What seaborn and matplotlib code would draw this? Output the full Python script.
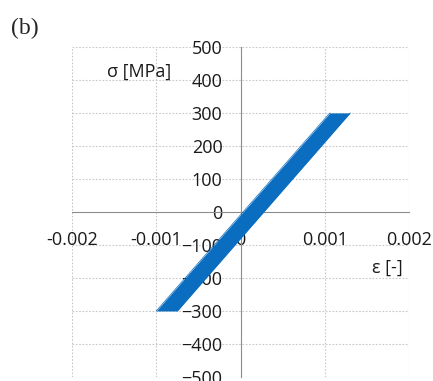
import numpy as np
import pandas as pd
import seaborn as sns
import matplotlib.pyplot as plt
from matplotlib.ticker import MultipleLocator

# Dados (faixa tensão x deformação)
stress = [-300, 300]
strain_left = [-0.001, 0.00106]
strain_right = [-0.00075, 0.0013]

x_ticks = [-0.002, -0.001, 0, 0.001, 0.002]
x_labels = ['-0.002', '-0.001', '0', '0.001', '0.002']
y_ticks = [-500, -400, -300, -200, -100, 0, 100, 200, 300, 400, 500]

sns.set_style('white')
plt.rcParams['font.family'] = ['Open Sans', 'DejaVu Sans']

fig = plt.figure(figsize=(4.33, 3.81), dpi=100)
ax = fig.add_axes([0.166, 0.0105, 0.779, 0.8665])

df = pd.DataFrame({'stress': stress, 'left': strain_left, 'right': strain_right})
blue = '#0a6dbf'
sns.lineplot(data=df, x='left', y='stress', color=blue, lw=0.5, ax=ax, sort=False, zorder=2)
sns.lineplot(data=df, x='right', y='stress', color=blue, lw=0.5, ax=ax, sort=False, zorder=2)
ax.fill_betweenx(df['stress'], df['left'], df['right'], color=blue, lw=0, zorder=2)

ax.set_xlim(-0.002, 0.002)
ax.set_ylim(-500, 500)
ax.set_xticks(x_ticks)
ax.set_xticklabels(x_labels)
ax.set_yticks(y_ticks)
ax.xaxis.set_minor_locator(MultipleLocator(0.0002))
ax.yaxis.set_minor_locator(MultipleLocator(20))
ax.set_xlabel('')
ax.set_ylabel('')

# Eixos cruzando no zero
for s in ['top', 'right']:
    ax.spines[s].set_visible(False)
for s in ['left', 'bottom']:
    ax.spines[s].set_position(('data', 0))
    ax.spines[s].set_color('#8c8c8c')
    ax.spines[s].set_zorder(1)

ax.tick_params(axis='both', which='both', direction='in', color='#8c8c8c', labelsize=13, labelcolor='#1a1a1a')
ax.tick_params(axis='x', which='major', length=5, pad=14)
ax.tick_params(axis='x', which='minor', length=3)
ax.tick_params(axis='y', which='major', length=5, pad=13)
ax.tick_params(axis='y', which='minor', length=3)

# Grade pontilhada
for xv in [-0.002, -0.001, 0.001, 0.002]:
    ax.axvline(xv, color='#c8c8c8', lw=0.8, ls=(0, (1.5, 1.5)), zorder=0)
for yv in y_ticks:
    if yv != 0:
        ax.axhline(yv, color='#c8c8c8', lw=0.8, ls=(0, (1.5, 1.5)), zorder=0)

ax.text(-0.0012, 425, 'σ [MPa]', fontsize=13, ha='center', va='center', color='#1a1a1a')
ax.text(0.00174, -170, 'ε [-]', fontsize=13, ha='center', va='center', color='#1a1a1a')
fig.text(0.026, 0.926, '(b)', fontsize=17, family='Liberation Serif', ha='left', va='center')

plt.savefig('out.png', dpi=100)
